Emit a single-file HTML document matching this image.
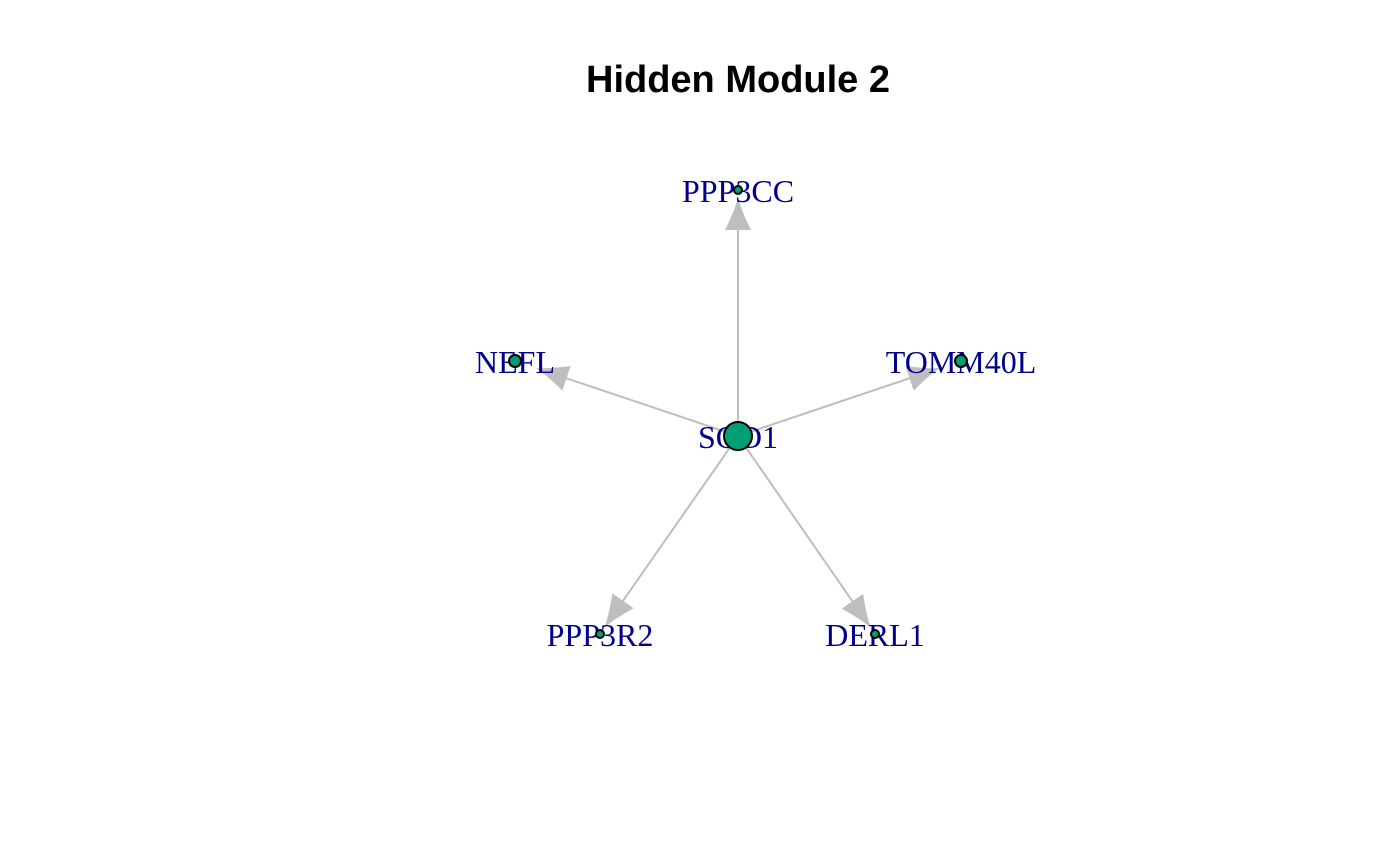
<!DOCTYPE html>
<html><head><meta charset="utf-8"><style>
html,body{margin:0;padding:0;background:#fff;}
svg{display:block}
.l{font-family:"Liberation Serif",serif;font-size:32px;fill:#00008B;text-anchor:middle;dominant-baseline:central}
</style></head><body>
<svg width="1400" height="865" xmlns="http://www.w3.org/2000/svg">
<text x="738" y="92" font-family="Liberation Sans, sans-serif" font-weight="bold" font-size="38" text-anchor="middle">Hidden Module 2</text>
<g stroke="#BEBEBE" stroke-width="2" fill="#BEBEBE">
<g transform="translate(738,436) rotate(-90)">
<line x1="0" y1="0" x2="210" y2="0"/><path stroke="none" d="M238,0 Q224,4 206,13 L206,-13 Q224,-4 238,0Z"/></g>
<g transform="translate(738,436) rotate(-161.4)">
<line x1="0" y1="0" x2="185" y2="0"/><path stroke="none" d="M213,0 Q199,4 181,13 L181,-13 Q199,-4 213,0Z"/></g>
<g transform="translate(738,436) rotate(-18.6)">
<line x1="0" y1="0" x2="185" y2="0"/><path stroke="none" d="M213,0 Q199,4 181,13 L181,-13 Q199,-4 213,0Z"/></g>
<g transform="translate(738,436) rotate(124.9)">
<line x1="0" y1="0" x2="205" y2="0"/><path stroke="none" d="M233,0 Q219,4 201,13 L201,-13 Q219,-4 233,0Z"/></g>
<g transform="translate(738,436) rotate(55.3)">
<line x1="0" y1="0" x2="205" y2="0"/><path stroke="none" d="M233,0 Q219,4 201,13 L201,-13 Q219,-4 233,0Z"/></g>
</g>
<text class="l" x="738" y="191">PPP3CC</text>
<text class="l" x="515" y="362">NEFL</text>
<text class="l" x="961" y="362">TOMM40L</text>
<text class="l" x="600" y="635">PPP3R2</text>
<text class="l" x="875" y="635">DERL1</text>
<text class="l" x="738" y="437">SOD1</text>
<g fill="#009E73" stroke="#000" stroke-width="2">
<circle cx="738" cy="436" r="14"/>
<circle cx="738" cy="190" r="4"/>
<circle cx="515" cy="361" r="6"/>
<circle cx="961" cy="361" r="6"/>
<circle cx="600" cy="634" r="4"/>
<circle cx="875" cy="634" r="4"/>
</g>
</svg>
</body></html>
